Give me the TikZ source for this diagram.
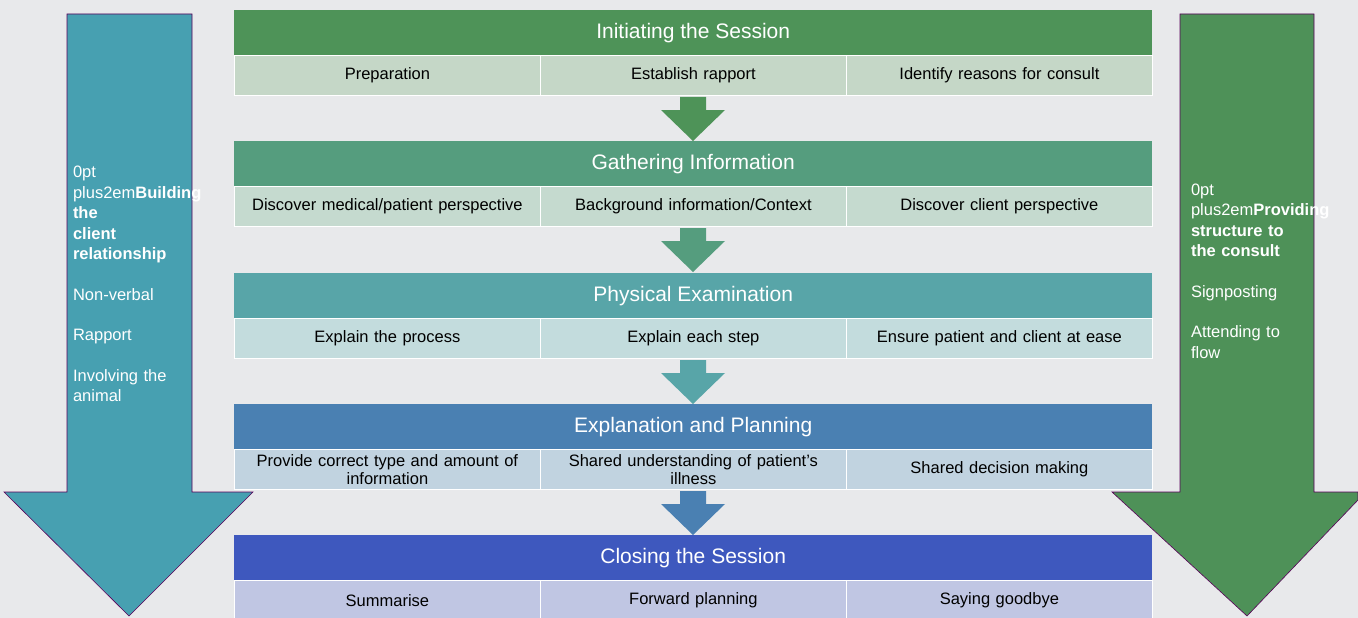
\documentclass[tikz,border=0pt]{standalone}
\usepackage{fontspec}
\setmainfont{Liberation Sans}
\begin{document}
\begin{tikzpicture}[x=1pt,y=-1pt,
  hdr/.style={minimum width=918pt,minimum height=45pt,inner sep=0pt,text=white,font=\fontsize{21}{24}\selectfont,anchor=north west},
  sub/.style={minimum width=306pt,minimum height=40pt,inner sep=0pt,font=\fontsize{16.5}{18}\selectfont,align=center,text width=285pt,anchor=north west,draw=white,line width=0.8pt},
  side/.style={text=white,font=\fontsize{16.5}{20.5}\selectfont\hyphenpenalty=10000,align=center,text width=112pt}]
\definecolor{bg}{HTML}{E8E9EB}
\definecolor{hA}{HTML}{4E9358}\definecolor{sA}{HTML}{C5D7C7}
\definecolor{hB}{HTML}{559D7E}\definecolor{sB}{HTML}{C5DACF}
\definecolor{hC}{HTML}{58A5A8}\definecolor{sC}{HTML}{C3DCDD}
\definecolor{hD}{HTML}{4A80B2}\definecolor{sD}{HTML}{C1D3E0}
\definecolor{hE}{HTML}{3E58BE}\definecolor{sE}{HTML}{C0C6E3}
\definecolor{lA}{HTML}{47A0B1}\definecolor{rA}{HTML}{4E9158}
\fill[bg] (0,0) rectangle (1358,618);
\useasboundingbox (0,0) rectangle (1358,618);
% side arrows
\draw[fill=lA,draw=violet!70!black,line width=0.6pt] (67,14)--(192,14)--(192,492)--(253,492)--(129,616)--(4,492)--(67,492)--cycle;
\draw[fill=rA,draw=violet!70!black,line width=0.6pt] (1180,14)--(1314,14)--(1314,492)--(1358,492)--(1358,500)--(1247,616)--(1112,492)--(1180,492)--cycle;
\node[side] (lt) at (129,284) {\textbf{Building the\\client\\relationship}\\[20pt]Non-verbal\\[20pt]Rapport\\[20pt]Involving the\\animal};
\node[side] (rt) at (1247,271) {\textbf{Providing\\structure to\\the consult}\\[20pt]Signposting\\[20pt]Attending to\\flow};
% rows
\def\row#1#2#3#4#5#6#7{%
 \node[hdr,fill=#2] (h#1) at (234,#3) {#4};
 \node[sub,fill=s#1] (a#1) at (234,#3+45) {#5};
 \node[sub,fill=s#1] (b#1) at (540,#3+45) {#6};
 \node[sub,fill=s#1] (c#1) at (846,#3+45) {#7};}
\row{A}{hA}{10}{Initiating the Session}{Preparation}{Establish rapport}{Identify reasons for consult}
\row{B}{hB}{141}{Gathering Information}{Discover medical/patient perspective}{Background information/Context}{Discover client perspective}
\row{C}{hC}{273}{Physical Examination}{Explain the process}{Explain each step}{Ensure patient and client at ease}
\row{D}{hD}{404}{Explanation and Planning}{Provide correct type and amount of\\information}{Shared understanding of patient's\\illness}{Shared decision making}
\row{E}{hE}{535}{Closing the Session}{Summarise}{Forward planning}{Saying goodbye}
% small arrows
\def\sarr#1#2{\fill[#2] (680,#1)--(706,#1)--(706,#1+13)--(725,#1+13)--(693,#1+44)--(661,#1+13)--(680,#1+13)--cycle;}
\sarr{97}{hA}\sarr{228}{hB}\sarr{360}{hC}\sarr{491}{hD}
\end{tikzpicture}
\end{document}
